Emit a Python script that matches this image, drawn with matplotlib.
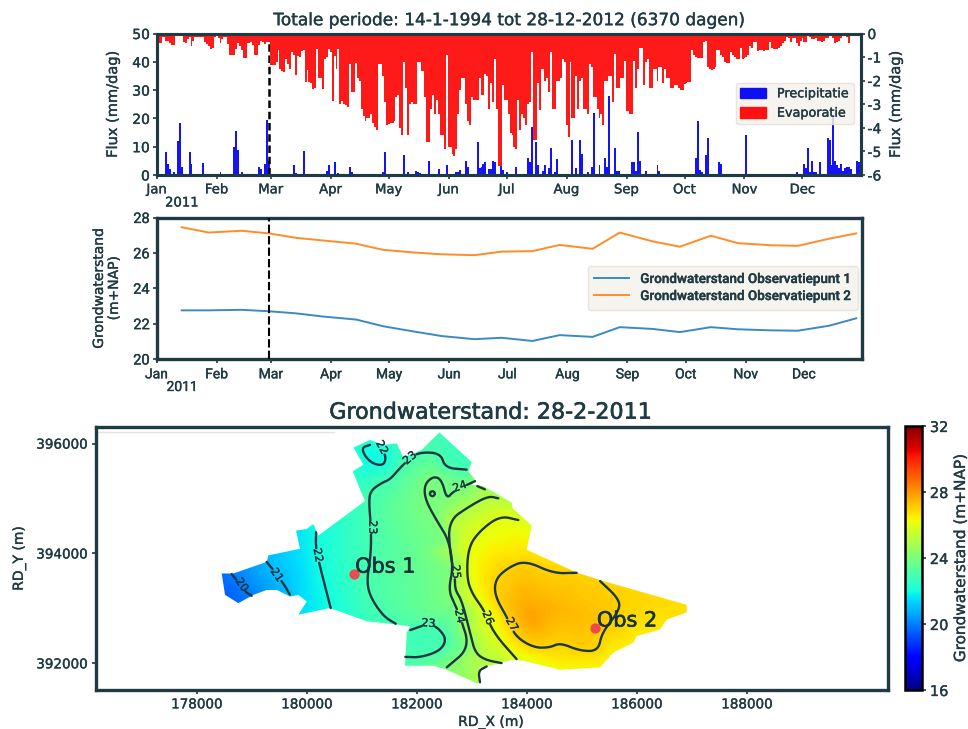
import numpy as np
import pandas as pd
import matplotlib
matplotlib.use("Agg")
import matplotlib.pyplot as plt
import matplotlib.dates as mdates
import matplotlib.tri as mtri
import matplotlib.patheffects as pe
from matplotlib.text import Text
from matplotlib.path import Path
from matplotlib.patches import PathPatch, Patch
from matplotlib.cm import ScalarMappable
from matplotlib.colors import Normalize

# ---------------- data ----------------
precip_day = [5,6,7,9,11,12,13,17,18,21,24,31,33,40,41,42,44,53,54,56,57,58,71,72,76,88,89,92,94,100,101,117,118,128,130,
              134,135,136,141,146,150,155,156,157,160,161,166,167,168,169,170,172,173,174,175,178,179,181,186,192,193,194,
              196,197,200,201,203,204,206,207,215,217,219,220,223,225,226,229,232,233,234,237,238,239,246,247,248,249,250,
              253,259,260,279,280,281,282,284,285,291,292,298,305,331,335,336,337,338,339,340,341,343,347,348,349,350,351,
              352,353,354,355,356,357,358,359,362,363]
precip_mm = [8,4,2,1,12,18.5,3,8,4,.5,4.3,.5,1,10,15.5,9,1,2.7,2.2,4,19.5,5,3.5,.8,8.5,1.5,3.5,4.7,.7,2.7,1,1,8,7,1,
             1.3,1,.6,5,2,3.4,1,1,1.8,5,3,11.5,2.5,3,4,4.5,2,2,5,4.5,12.5,1.8,1,2.7,6,4.5,16.8,
             11.5,3.5,1.5,3.5,2.5,9.5,1,5.5,12.5,2.3,12.5,7.5,1,2.7,22,3.4,6,3,28,9.5,1.5,1.5,4.5,4.5,1.5,15.3,5,
             1.5,3.7,1.5,6,19,1.7,1.2,7,13,4.5,4,.5,14,1,4,2.5,9.5,1,5,1,1,4.5,13,12.5,3.5,21,5,
             3.5,2.5,4,1.5,2.5,3,3,2,5,4.5]
evap_mm = [.4,.4,.4,.15,.15,.3,.3,.4,.5,.5, .1,.1,.1,.1,.35,.4,.25,.15,.55,.3,
           .15,.15,.15,.15,.15,.35,.45,.55,.65,.6, .15,.1,.2,.4,.25,.15,.15,.45,.9,.9,
           .9,.65,.4,.55,.7,1.05,1.05,.4,.4,.35, .5,.9,.9,.5,.3,.35,.45,.35,.35,
           1.35,1.35,1.35,1.2,.7,1.5,1.6,1.65,1.1,1.3,1.5,.8,.9,1.75,.95,1.0,.75,.7,2.05,1.55,2.05,2.1,2.35,2.3,.65,1.9,1.9,2.35,1.1,1.0,.65,
           .8,2.85,.95,1.5,.65,3.0,2.85,3.0,3.05,3.1,1.3,2.5,2.5,1.25,1.9,2.0,3.2,3.5,3.7,3.6,3.6,3.4,3.8,3.95,4.1,1.3,1.3,1.8,2.9,3.9,
           3.85,3.8,3.8,3.7,2.7,2.6,4.0,4.3,1.2,2.3,4.3,3.0,2.9,3.0,3.0,1.2,1.2,1.6,1.6,2.7,4.6,4.6,3.2,2.6,3.4,2.8,3.4,4.3,4.3,4.9,.9,
           4.8,4.8,5.1,5.2,4.9,3.4,2.4,1.9,1.9,3.0,3.7,3.9,2.7,2.8,2.8,2.8,1.9,2.6,2.6,1.7,1.8,3.2,2.1,2.9,1.1,3.2,5.6,5.6,2.2,2.8,
           2.8,3.4,4.2,4.3,4.8,4.9,2.8,4.1,3.4,3.6,3.9,3.0,2.9,.8,4.5,4.5,2.1,3.25,1.5,1.5,2.0,1.9,2.5,.8,3.2,3.2,2.0,2.0,1.9,1.1,1.2,
           3.9,4.4,1.2,3.6,3.6,1.8,3.2,2.0,1.9,3.2,3.2,3.4,1.3,1.4,2.7,2.7,3.2,3.6,3.4,3.9,2.0,2.0,1.8,1.8,2.9,.85,2.3,2.3,1.9,1.9,
           1.15,3.3,3.3,3.4,3.4,1.15,2.3,1.5,.6,.6,2.2,1.2,1.1,2.3,2.3,1.5,1.5,2.0,1.4,1.4,2.1,1.5,1.9,1.9,2.3,2.3,2.2,2.2,2.3,2.4,
           2.4,2.15,2.1,2.05,2.05,.7,.9,1.0,1.05,1.05,1.05,.35,.3,1.4,1.5,1.55,1.5,1.4,.7,.7,.9,1.0,1.2,1.25,1.25,.8,.9,1.0,1.1,1.1,
           .6,1.1,1.05,1.0,.9,.55,.6,.35,.35,.75,.7,.7,.75,.7,.7,.35,.6,.65,.65,.65,.6,.55,.4,.3,.15,.2,.35,.2,.2,.4,
           .55,.3,.2,.35,.35,.1,.15,.25,.25,.2,.3,.3,.35,.3,.2,.2,.1,.1,.2,.4,.35,.3,.2,.1,.1,.15,.4,.1,.05,.05,.05,.1,.25]

gw_dates = ["2011-01-14","2011-01-28","2011-02-14","2011-02-28","2011-03-14","2011-03-28","2011-04-14","2011-04-28",
            "2011-05-14","2011-05-28","2011-06-14","2011-06-28","2011-07-14","2011-07-28","2011-08-14","2011-08-28",
            "2011-09-14","2011-09-28","2011-10-14","2011-10-28","2011-11-14","2011-11-28","2011-12-14","2011-12-28"]
gw_obs1 = [22.75,22.75,22.78,22.7,22.58,22.4,22.23,21.85,21.55,21.3,21.12,21.2,21.02,21.35,21.25,21.8,21.7,21.52,21.8,21.68,21.62,21.6,21.88,22.3]
gw_obs2 = [27.45,27.15,27.25,27.1,26.85,26.7,26.52,26.17,26.02,25.92,25.87,26.07,26.1,26.45,26.23,27.15,26.65,26.35,26.97,26.55,26.43,26.4,26.8,27.1]
selected_date = "2011-02-28"

area_x = [180848,181151,181393,181636,181757,182090,182411,183000,182938,183060,183000,183211,183726,183744,184090,183999,184908,185332,
          186908,186908,186544,186423,185999,185938,185574,185332,184605,183938,183726,183453,183150,183120,182514,182302,181787,181818,
          181878,181636,181090,180424,179848,180000,179848,179697,179454,179272,179030,178757,178515,178454,178666,179272,179303,179878,
          179806,180000,180121,180212,181060,180969,180836,181030]
area_y = [395928,396066,395976,396006,395748,395886,396204,395664,395496,395346,395256,395226,394926,394824,394506,394068,393654,393516,
          393066,392928,392796,392616,392496,392376,392196,391926,391884,392046,392064,391986,391926,391626,391896,391956,391956,392556,
          392676,392706,392766,393006,392886,393126,393246,393216,393336,393336,393246,393096,393246,393636,393636,393846,393966,394086,
          394416,394446,394536,394326,394956,395166,395496,395616]
area_h = [22.5,22.4,22.4,22.6,22.9,23.05,22.8,22.6,23.2,24,24.1,24.8,25.4,25.5,26,26.6,27,27,
          26.8,26.8,26.7,26.6,26.5,26.5,26.4,26.3,26.3,26,25.9,25.3,24.9,24.9,23.9,23.6,23,22.7,
          22.9,22.9,22.7,22,21.5,21.6,21.4,21,20.8,20.5,20,19.6,19.4,19.6,20,21,21,21.6,
          21.6,21.8,21.9,22,22.9,22.7,22.5,22]
inner_x = [184060,184500,185200,184900,181230,181900,182200,182100,182800,182750,183200,183000,182500,185700,184300]
inner_y = [392796,393000,392800,392500,395800,394000,392900,392400,393500,394200,393400,395000,395200,392550,392250]
inner_h = [27.85,27.5,27.3,27.2,21.8,23.5,23.6,22.8,24.6,25.4,26.5,24.4,23.6,26.95,26.9]

iso_lines = [
 (20,[178636,178727,178879,179000],[393624,393516,393306,393228]),
 (21,[179272,179394,179575,179697],[393846,393696,393456,393246]),
 (22,[180169,180163,180242,180436],[394386,394116,393756,393006]),
 (22,[181151,181000,181060,181212,181393,181442,181393],[395976,395928,395766,395628,395604,395736,395856]),
 (23,[182908,182515,182436,182060,181878,181696,181515,181363,181151,181133,181169,181169,181090,181151,181393,181624],
     [395526,395556,395826,395844,395736,395556,395346,395286,395136,394896,394476,393996,393516,393216,392856,392718]),
 (23,[181793,182060,182424,182545,182393,182212,181878],[392118,392106,392226,392436,392646,392724,392604]),
 (24,[183060,182666,182545,182454,182302,182139,182151,182363,182575,182666,182575,182696,182787,182969,182545],
     [395316,395136,394986,395346,395406,395256,394986,394596,394266,393756,393336,393066,392856,392286,391926]),
 (24,[182224,182284,182345,182284,182224],[395088,395148,395088,395028,395088]),
 (25,[183484,183302,182969,182575,182605,182696,182696,182817,182969,183060,183241,183544],
     [395004,395046,394866,394596,393996,393576,393336,393156,392556,392196,392064,392004]),
 (25,[183102,183241],[395226,395166]),
 (25,[183150,183120,183272],[391656,391866,391944]),
 (26,[183847,183514,183150,182938,182908,183000,183241,183393,183817],
     [394608,394686,394416,394116,393576,393276,392946,392556,392076]),
 (27,[184908,184484,183969,183635,183423,183423,183666,183787,184120,184423,184605,184968,185302,185363,185696,185666,185332],
     [393648,393636,393876,393726,393516,393216,392796,392496,392286,392286,392376,392226,392226,392556,392976,393186,393498]),
]
iso_labels = [("20",178818,393426,-55),("21",179454,393606,-55),("22",180200,393966,-80),("22",181363,395928,-62),
              ("23",181193,394476,-90),("23",181878,395736,40),("23",182212,392724,-5),("24",182787,395214,20),
              ("24",182775,392856,-78),("25",182709,393666,-85),("26",183290,392826,-68),("27",183726,392706,-60)]
obs_names = ["Obs 1","Obs 2"]
obs_x = [180866,185241]
obs_y = [393624,392646]

# ---------------- style ----------------
W, H = 968, 729
DARK = "#1e3a42"
FONT = "DejaVu Sans"
NARROW = "Roboto"
plt.rcParams.update({"font.family": FONT, "text.color": DARK, "axes.labelcolor": DARK,
                     "xtick.color": DARK, "ytick.color": DARK, "axes.edgecolor": DARK,
                     "axes.unicode_minus": False})

def box(l, t, r, b):
    return [l / W, 1 - b / H, (r - l) / W, (b - t) / H]

fig = plt.figure(figsize=(W / 100, H / 100), dpi=100)

def style(ax, lw=2.2):
    for s in ax.spines.values():
        s.set_linewidth(lw)
        s.set_color(DARK)

xlim = (mdates.date2num(pd.Timestamp("2011-01-01")), mdates.date2num(pd.Timestamp("2011-12-31")))

def month_axis(ax, family=FONT, size=9.5):
    ax.set_xlim(*xlim)
    ax.xaxis.set_major_locator(mdates.MonthLocator())
    ax.xaxis.set_major_formatter(mdates.DateFormatter("%b"))
    ax.tick_params(axis="x", length=3, width=1.2, labelsize=size, pad=3)
    for t in ax.get_xticklabels():
        t.set_family(family)

# ---------------- top panel ----------------
ax1 = fig.add_axes(box(156.7, 33.5, 860.5, 175))
day0 = xlim[0]
ax1.bar(day0 + np.array(precip_day), precip_mm, width=1.0, color="#1414f5", linewidth=0)
ax1.set_ylim(0, 50)
ax1.set_yticks(range(0, 51, 10))
ax1.tick_params(axis="y", length=3, width=1.2, labelsize=10, pad=2)
month_axis(ax1)
ax1.set_ylabel("Flux (mm/dag)", fontsize=10.5)
ax1.yaxis.set_label_coords((120 - 156.7) / 703.8, 0.5)
ax1.axvline(mdates.date2num(pd.Timestamp(selected_date)), color="black", lw=1.8, ls=(0, (3, 1.5)), zorder=5)
ax1b = ax1.twinx()
ax1b.bar(day0 + np.arange(len(evap_mm)), -np.array(evap_mm), width=1.0, color="#ff1a1a", linewidth=0)
ax1b.set_ylim(-6, 0)
ax1b.set_yticks(range(-6, 1))
ax1b.tick_params(axis="y", length=3, width=1.2, labelsize=10, pad=2)
ax1b.set_ylabel("Flux (mm/dag)", fontsize=10.5)
ax1b.yaxis.set_label_coords((888 - 156.7) / 703.8, 0.5)
style(ax1); style(ax1b)
ax1b.set_zorder(ax1.get_zorder() + 1)
ax1b.patch.set_visible(False)
ax1b.legend(handles=[Patch(color="#0f0ff5", label="Precipitatie"), Patch(color="#ff1111", label="Evaporatie")],
            loc="center right", bbox_to_anchor=((853.5 - 156.7) / 703.8, (175 - 103.5) / 141.5), fontsize=9.2,
            facecolor="#f6f3ee", edgecolor="#e6e2da", framealpha=0.85, handlelength=2.0, handleheight=0.9,
            labelspacing=0.5, borderpad=0.35, handletextpad=0.85, fancybox=True, borderaxespad=0)
ax1.set_zorder(0)
ax1b.set_title("Totale periode: 14-1-1994 tot 28-12-2012 (6370 dagen)", fontsize=12.2, color=DARK, pad=6,
               x=(508 - 156.7) / 703.8)
fig.text(182 / W, 1 - 203 / H, "2011", ha="center", va="center", fontsize=9.5)

# ---------------- middle panel ----------------
ax2 = fig.add_axes(box(156.5, 217.5, 862, 359))
gw_t = mdates.date2num(pd.to_datetime(gw_dates))
ax2.plot(gw_t, gw_obs1, color="#3a8ac4", lw=1.4, label="Grondwaterstand Observatiepunt 1")
ax2.plot(gw_t, gw_obs2, color="#ff8c2a", lw=1.4, label="Grondwaterstand Observatiepunt 2")
ax2.set_ylim(20, 28)
ax2.set_yticks(range(20, 29, 2))
ax2.tick_params(axis="y", length=3, width=1.2, labelsize=10.5, pad=2)
for t in ax2.get_yticklabels():
    t.set_family(NARROW)
month_axis(ax2, NARROW, 10)
ax2.axvline(mdates.date2num(pd.Timestamp(selected_date)), color="black", lw=1.5, ls=(0, (4, 1.5)), zorder=5)
ax2.set_ylabel("Grondwaterstand\n(m+NAP)", fontsize=10, linespacing=1.1)
ax2.yaxis.set_label_coords((121 - 156.5) / 705.5, 0.5)
style(ax2, 2.4)
leg = ax2.legend(loc="center right", bbox_to_anchor=((858 - 156.5) / 705.5, (359 - 288) / 141.5),
                 prop={"family": NARROW, "size": 9.7, "weight": "medium"}, facecolor="#f6f3ee", edgecolor="#e6e2da",
                 framealpha=0.9, borderaxespad=0, handlelength=2.6, labelspacing=0.3, borderpad=0.5, fancybox=True)
fig.text(182 / W, 1 - 387 / H, "2011", ha="center", va="center", fontsize=10, family=NARROW)

# ---------------- map ----------------
ax3 = fig.add_axes(box(96, 427, 888, 690))
ax3.set_xlim(176169, 190568)
ax3.set_ylim(391515, 396302)

# head field: triangulated from the isolines plus boundary and interior readings
pts = {}
for level, xs, ys in iso_lines:
    for x, y in zip(xs, ys):
        pts[(x, y)] = float(level)
for x, y, h in zip(area_x, area_y, area_h):
    pts.setdefault((x, y), h)
for x, y, h in zip(inner_x, inner_y, inner_h):
    pts[(x, y)] = h
px = np.array([k[0] for k in pts], float)
py = np.array([k[1] for k in pts], float)
pz = np.array(list(pts.values()), float)
interp = mtri.LinearTriInterpolator(mtri.Triangulation(px, py), pz)
gx = np.arange(178300, 187050, 30.0)
gy = np.arange(391500, 396350, 30.0)
GX, GY = np.meshgrid(gx, gy)
Z = np.ma.filled(interp(GX, GY).astype(float), np.nan)

def blur(a, n):
    k = np.ones(n)
    mask = np.isfinite(a).astype(float)
    v = np.nan_to_num(a)
    for axis in (0, 1):
        v = np.apply_along_axis(lambda m: np.convolve(m, k, "same"), axis, v)
        mask = np.apply_along_axis(lambda m: np.convolve(m, k, "same"), axis, mask)
    out = np.where(mask > 0, v / np.maximum(mask, 1e-9), np.nan)
    return out

Z = blur(Z, 9)
verts = np.column_stack([area_x + area_x[:1], area_y + area_y[:1]])
patch = PathPatch(Path(verts, closed=True), transform=ax3.transData, fc="none", ec="none")
ax3.add_patch(patch)
im = ax3.imshow(Z, origin="lower", extent=(gx[0], gx[-1], gy[0], gy[-1]), cmap="jet", vmin=16, vmax=32,
                aspect="auto", interpolation="bilinear", zorder=1)
im.set_clip_path(patch)
ax3.set_xlim(176169, 190568)
ax3.set_ylim(391515, 396302)

def smooth(xs, ys, it=3):
    p = np.column_stack([xs, ys]).astype(float)
    closed = np.allclose(p[0], p[-1])
    for _ in range(it):
        q = 0.75 * p[:-1] + 0.25 * p[1:]
        r = 0.25 * p[:-1] + 0.75 * p[1:]
        n = np.empty((2 * len(q), 2))
        n[0::2] = q
        n[1::2] = r
        if closed:
            n = np.vstack([n, n[0]])
        else:
            n = np.vstack([p[0], n, p[-1]])
        p = n
    return p

for level, xs, ys in iso_lines:
    p = smooth(xs, ys)
    d = np.hypot(np.diff(p[:, 0]), np.diff(p[:, 1])).cumsum()
    s = np.r_[0, d]
    t = np.arange(0, s[-1], 10.0)
    lx, ly = np.interp(t, s, p[:, 0]), np.interp(t, s, p[:, 1])
    keep = np.ones_like(lx, bool)
    for txt, ax_, ay_, rot in iso_labels:
        if int(txt) == level:
            keep &= np.hypot(lx - ax_, ly - ay_) > 130
    lx[~keep] = np.nan
    ax3.plot(lx, ly, color="#1d3640", lw=1.7, zorder=3, solid_capstyle="round")
for txt, x, y, rot in iso_labels:
    ax3.text(x, y, txt, fontsize=8, rotation=rot, rotation_mode="anchor", ha="center", va="center",
             color="#1d3640", zorder=4)
ax3.scatter(obs_x, obs_y, s=55, color="#f2434c", linewidths=0, zorder=5, alpha=0.95)
ax3.text(180880, 393760, obs_names[0], fontsize=15, ha="left", va="center", color="#16333b", zorder=6)
ax3.text(185275, 392780, obs_names[1], fontsize=15, ha="left", va="center", color="#16333b", zorder=6)
ax3.plot([0, 0.30], [0.981, 0.981], transform=ax3.transAxes, color="#e4e4e4", lw=1, zorder=1)

ax3.set_xticks(range(178000, 188001, 2000))
ax3.set_yticks([392000, 394000, 396000])
ax3.tick_params(length=3, width=1.2, labelsize=9.7, pad=3)
ax3.set_xlabel("RD_X (m)", fontsize=10, labelpad=2)
ax3.set_ylabel("RD_Y (m)", fontsize=10)
ax3.yaxis.set_label_coords((26 - 96) / 792, 0.5)
ax3.xaxis.set_label_coords((491 - 96) / 792, (690 - 715) / 263)
ax3.set_title("Grondwaterstand: 28-2-2011", fontsize=16, color=DARK, pad=6, x=(491 - 96) / 792)
style(ax3, 2.4)

cax = fig.add_axes(box(905, 426, 921.5, 690))
cb = fig.colorbar(ScalarMappable(Normalize(16, 32), "jet"), cax=cax, ticks=[16, 20, 24, 28, 32])
cb.outline.set_linewidth(1.8)
cb.outline.set_edgecolor("black")
cax.tick_params(length=3, width=1.2, labelsize=10.5, pad=3)
cb.set_label("Grondwaterstand (m+NAP)", fontsize=11)
cax.yaxis.set_label_coords((953 - 905) / 16.5, 0.5)

# slightly heavier text, as in the reference
fig.canvas.draw()
for t in fig.findobj(Text):
    if t.get_text():
        sw = 0.25 if t.get_fontsize() < 14 else 0.45
        t.set_path_effects([pe.withStroke(linewidth=sw, foreground=t.get_color())])

fig.savefig("out.png", dpi=100)
